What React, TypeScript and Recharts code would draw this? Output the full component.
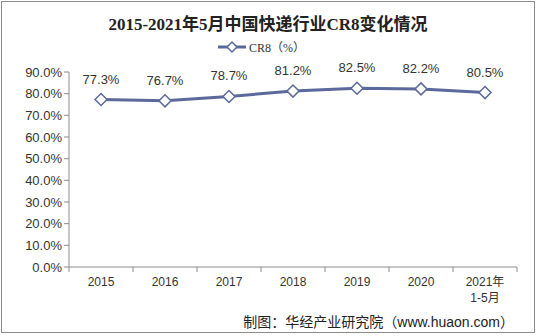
import { LineChart, Line, XAxis, YAxis, LabelList } from "recharts";

const years = ["2015", "2016", "2017", "2018", "2019", "2020", "2021年\n1-5月"];
const cr8 = [77.3, 76.7, 78.7, 81.2, 82.5, 82.2, 80.5];
const yTicks = [0, 10, 20, 30, 40, 50, 60, 70, 80, 90];

const data = years.map((year, i) => ({ year, cr8: cr8[i] }));

const LINE = "#5b6a9a";
const AXIS = "#8c8c8c";
const FONT = "'Liberation Sans', Arial, 'Noto Sans CJK SC', sans-serif";
const BAND = 64;

function XTick({ x, y, payload, index }: any) {
  const lines = String(payload.value).split("\n");
  const last = index === years.length - 1;
  return (
    <g>
      <line x1={x - BAND / 2} x2={x - BAND / 2} y1={y - 8} y2={y - 3} stroke={AXIS} />
      {last && <line x1={x + BAND / 2} x2={x + BAND / 2} y1={y - 8} y2={y - 3} stroke={AXIS} />}
      <text textAnchor="middle" fontSize={12} fill="#333" fontFamily={FONT}>
        {lines.map((l, i) => (
          <tspan key={i} x={x} y={y + 11 + i * 16}>
            {l}
          </tspan>
        ))}
      </text>
    </g>
  );
}

function LegendMark() {
  return (
    <svg
      width={120}
      height={16}
      style={{ position: "absolute", left: 218, top: 39, overflow: "visible" }}
    >
      <line x1={0} x2={28} y1={8} y2={8} stroke={LINE} strokeWidth={3} />
      <path d="M14 3 L19 8 L14 13 L9 8 Z" fill="#fff" stroke={LINE} strokeWidth={1.5} />
      <text x={31} y={12.5} fontSize={12} fill="#333" fontFamily="'Liberation Serif', 'Noto Sans CJK SC', serif">
        CR8（%）
      </text>
    </svg>
  );
}

export default function App() {
  return (
    <div style={{ position: "absolute", left: 0, top: 0, width: 536, height: 336, background: "#fff" }}>
      <div
        style={{
          position: "absolute",
          left: 1,
          top: 1,
          width: 532,
          height: 330,
          border: `1px solid ${AXIS}`,
        }}
      />
      <div
        style={{
          position: "absolute",
          left: 0,
          top: 10,
          width: 536,
          textAlign: "center",
          fontSize: 17,
          fontWeight: "bold",
          color: "#222",
          fontFamily: "'Liberation Serif', 'Noto Sans CJK SC', serif",
        }}
      >
        2015-2021年5月中国快递行业CR8变化情况
      </div>
      <LegendMark />
      <div style={{ position: "absolute", left: 0, top: 0 }}>
        <LineChart width={536} height={336} data={data} margin={{ top: 72, right: 19, bottom: 39, left: 9 }}>
          <XAxis
            dataKey="year"
            interval={0}
            tickLine={false}
            axisLine={{ stroke: AXIS }}
            padding={{ left: BAND / 2, right: BAND / 2 }}
            tick={<XTick />}
          />
          <YAxis
            width={60}
            domain={[0, 90]}
            ticks={yTicks}
            interval={0}
            tickFormatter={(v) => `${v.toFixed(1)}%`}
            tick={{ fontSize: 13, fill: "#333", fontFamily: FONT }}
            tickLine={{ stroke: AXIS }}
            tickSize={5}
            axisLine={{ stroke: AXIS }}
          />
          <Line
            dataKey="cr8"
            stroke={LINE}
            strokeWidth={3}
            isAnimationActive={false}
            dot={(p: any) => (
              <path
                key={p.index}
                d={`M${p.cx} ${p.cy - 6} L${p.cx + 6} ${p.cy} L${p.cx} ${p.cy + 6} L${p.cx - 6} ${p.cy} Z`}
                fill="#fff"
                stroke={LINE}
                strokeWidth={1.5}
              />
            )}
            activeDot={false}
          >
            <LabelList
              dataKey="cr8"
              position="top"
              offset={16}
              formatter={(v: any) => `${v}%`}
              style={{ fontSize: 13, fill: "#333", fontFamily: FONT }}
            />
          </Line>
        </LineChart>
      </div>
      <div
        style={{
          position: "absolute",
          right: 22,
          top: 311,
          fontSize: 14,
          color: "#222",
          fontFamily: "'Noto Sans CJK SC', sans-serif",
          whiteSpace: "nowrap",
        }}
      >
        制图：华经产业研究院（<span style={{ fontFamily: FONT }}>www.huaon.com</span>）
      </div>
    </div>
  );
}
